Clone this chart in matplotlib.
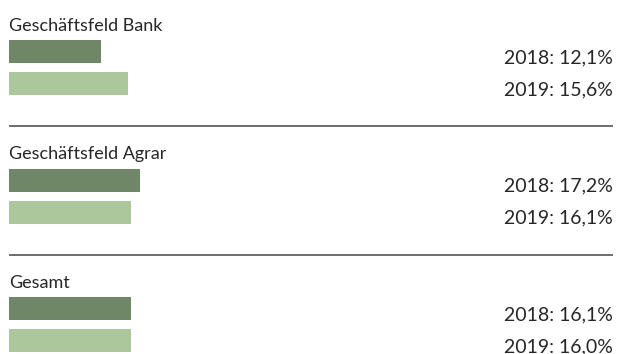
import matplotlib
matplotlib.use('Agg')
import matplotlib.pyplot as plt
import matplotlib.transforms as mtransforms

# Daten
bereiche = ['Geschäftsfeld Bank', 'Geschäftsfeld Agrar', 'Gesamt']
jahre = ['2018', '2019']
werte_2018 = [12.1, 17.2, 16.1]
werte_2019 = [15.6, 16.1, 16.0]

farbe_2018 = '#6f8766'
farbe_2019 = '#abc79b'
textfarbe = '#262626'

W, H = 618, 354
px_pro_prozent = 7.6
links = 9

fig = plt.figure(figsize=(W / 100, H / 100), dpi=100)
ax = fig.add_axes([0, 0, 1, 1])
ax.set_xlim(-links / px_pro_prozent, (W - links) / px_pro_prozent)
ax.set_ylim(H, 0)
ax.axis('off')

rechts = mtransforms.blended_transform_factory(ax.transAxes, ax.transData)

abstand = 128.5
balken_h = 23
for i, name in enumerate(bereiche):
    off = i * abstand
    ax.text(0, 31 + off, name, ha='left', va='baseline', family='Lato', fontsize=13, color=textfarbe)
    for j, (jahr, wert, farbe) in enumerate(zip(jahre, [werte_2018[i], werte_2019[i]], [farbe_2018, farbe_2019])):
        yc = 51.5 + j * 32 + off
        ax.barh(yc, wert, height=balken_h, left=0, color=farbe, linewidth=0)
        txt = '%s: %s%%' % (jahr, ('%.1f' % wert).replace('.', ','))
        ax.text(612.5 / W, yc + balken_h / 2, txt, ha='right', va='baseline', transform=rechts,
                family='Lato', fontsize=14, color=textfarbe)
    if i < len(bereiche) - 1:
        ax.plot([0, (613 - links) / px_pro_prozent], [126 + off, 126 + off], color='#555555', lw=1.2, solid_capstyle='butt')

fig.savefig('out.png', dpi=100)
plt.close(fig)
